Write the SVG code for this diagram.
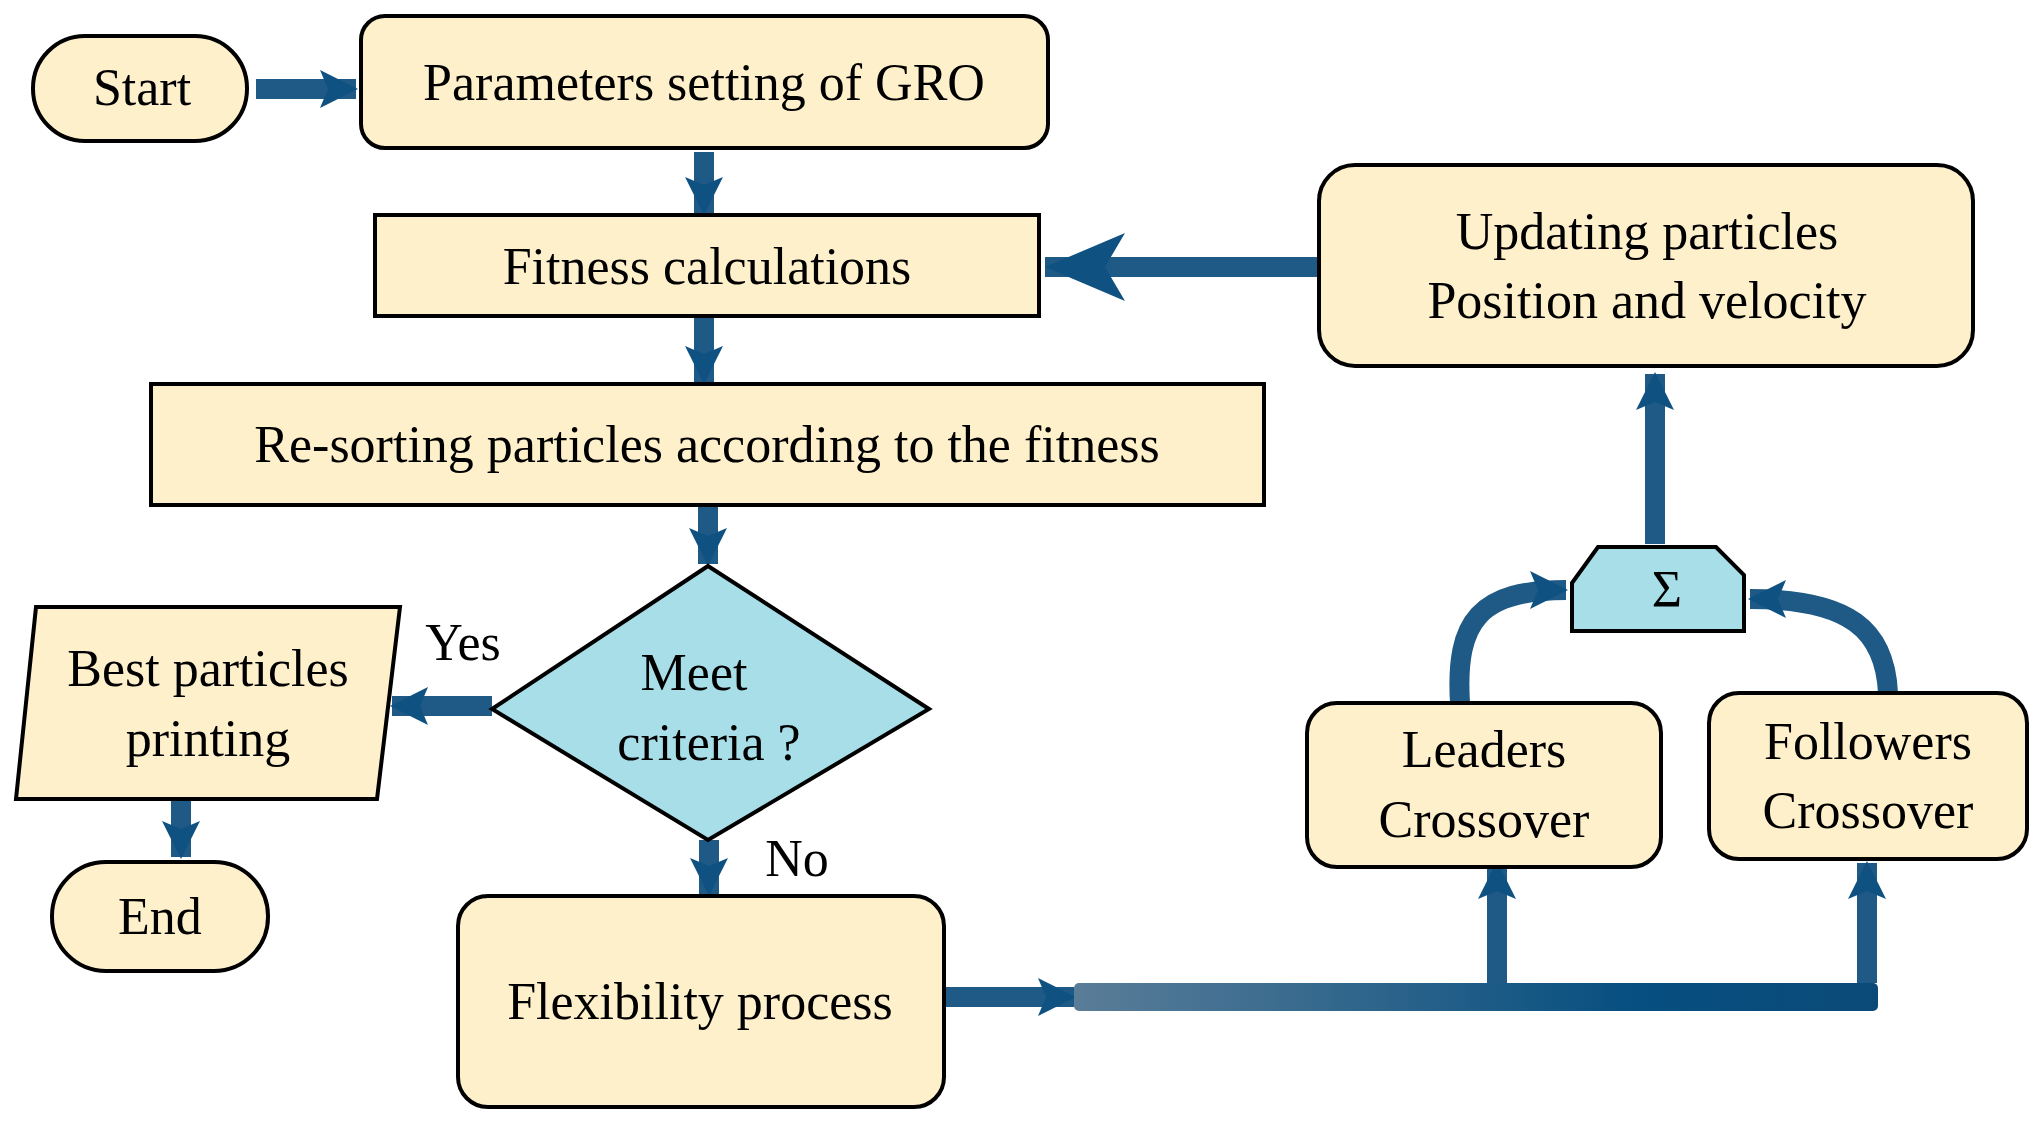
<svg xmlns="http://www.w3.org/2000/svg" width="2041" height="1126" viewBox="0 0 2041 1126">
<style>
.n{fill:#FFF0CC;stroke:#000;stroke-width:4}
.d{fill:#A8DEE8;stroke:#000;stroke-width:4}
text{font-family:"Liberation Serif","Times New Roman",serif;font-size:52px;fill:#000;text-anchor:middle}
.c{fill:none;stroke:#1f5a86;stroke-width:20}
</style>
<defs>
<marker id="ah" markerUnits="userSpaceOnUse" markerWidth="50" markerHeight="50" refX="36" refY="25" orient="auto"><path d="M0,6 L38,25 L0,44 L8,25 Z" fill="#0f5282"/></marker>
<marker id="ahb" markerUnits="userSpaceOnUse" markerWidth="90" markerHeight="80" refX="80" refY="40" orient="auto"><path d="M0,6 L80,40 L0,74 L20,40 Z" fill="#0f5282"/></marker>
<linearGradient id="bus" x1="0" x2="1" y1="0" y2="0"><stop offset="0" stop-color="#5a7d98"/><stop offset="0.7" stop-color="#064f80"/><stop offset="1" stop-color="#0b4a78"/></linearGradient>
</defs>
<g id="connectors">
<line class="c" x1="256" y1="89" x2="356" y2="89" marker-end="url(#ah)"/>
<line class="c" x1="704" y1="152" x2="704" y2="213" marker-end="url(#ah)"/>
<line class="c" x1="704" y1="318" x2="704" y2="382" marker-end="url(#ah)"/>
<line class="c" x1="708" y1="507" x2="708" y2="564" marker-end="url(#ah)"/>
<line class="c" x1="492" y1="706" x2="392" y2="706" marker-end="url(#ah)"/>
<line class="c" x1="181" y1="799" x2="181" y2="857" marker-end="url(#ah)"/>
<line class="c" x1="709" y1="840" x2="709" y2="894" marker-end="url(#ah)"/>
<line class="c" x1="946" y1="997" x2="1074" y2="997" marker-end="url(#ah)"/>
<rect x="1074" y="983" width="804" height="28" rx="5" fill="url(#bus)"/>
<line class="c" x1="1497" y1="983" x2="1497" y2="863" marker-end="url(#ah)"/>
<line class="c" x1="1867" y1="983" x2="1867" y2="863" marker-end="url(#ah)"/>
<path class="c" d="M1460,703 C1455,620 1480,590 1566,590" marker-end="url(#ah)"/>
<path class="c" d="M1888,693 C1885,630 1850,599 1750,599" marker-end="url(#ah)"/>
<line class="c" x1="1655" y1="544" x2="1655" y2="374" marker-end="url(#ah)"/>
<line class="c" x1="1319" y1="267" x2="1045" y2="267" stroke-width="24" marker-end="url(#ahb)"/>
</g>
<g id="start"><rect class="n" x="33" y="36" width="214" height="105" rx="52"/><text x="142" y="105">Start</text></g>
<g id="params"><rect class="n" x="361" y="16" width="687" height="132" rx="24"/><text x="704" y="100">Parameters setting of GRO</text></g>
<g id="fitness"><rect class="n" x="375" y="215" width="664" height="101"/><text x="707" y="284">Fitness calculations</text></g>
<g id="resort"><rect class="n" x="151" y="384" width="1113" height="121"/><text x="707" y="462">Re-sorting particles according to the fitness</text></g>
<g id="meet"><polygon class="d" points="708,566 929,709 708,840 492,709"/><text x="694" y="690">Meet</text><text x="709" y="760">criteria ?</text></g>
<text x="463" y="660">Yes</text>
<text x="797" y="876">No</text>
<g id="best"><polygon class="n" points="36,607 400,607 377,799 16,799"/><text x="208" y="686">Best particles</text><text x="208" y="756">printing</text></g>
<g id="end"><rect class="n" x="52" y="862" width="216" height="109" rx="54"/><text x="160" y="934">End</text></g>
<g id="flex"><rect class="n" x="458" y="896" width="486" height="211" rx="30"/><text x="700" y="1019">Flexibility process</text></g>
<g id="leaders"><rect class="n" x="1307" y="703" width="354" height="164" rx="30"/><text x="1484" y="767">Leaders</text><text x="1484" y="837">Crossover</text></g>
<g id="followers"><rect class="n" x="1709" y="693" width="318" height="166" rx="30"/><text x="1868" y="759">Followers</text><text x="1868" y="828">Crossover</text></g>
<g id="sum"><polygon class="d" points="1572,583 1598,547 1716,547 1744,575 1744,631 1572,631"/><text x="1667" y="607">Σ</text></g>
<g id="update"><rect class="n" x="1319" y="165" width="654" height="201" rx="36"/><text x="1647" y="249">Updating particles</text><text x="1647" y="318">Position and  velocity</text></g>
</svg>
